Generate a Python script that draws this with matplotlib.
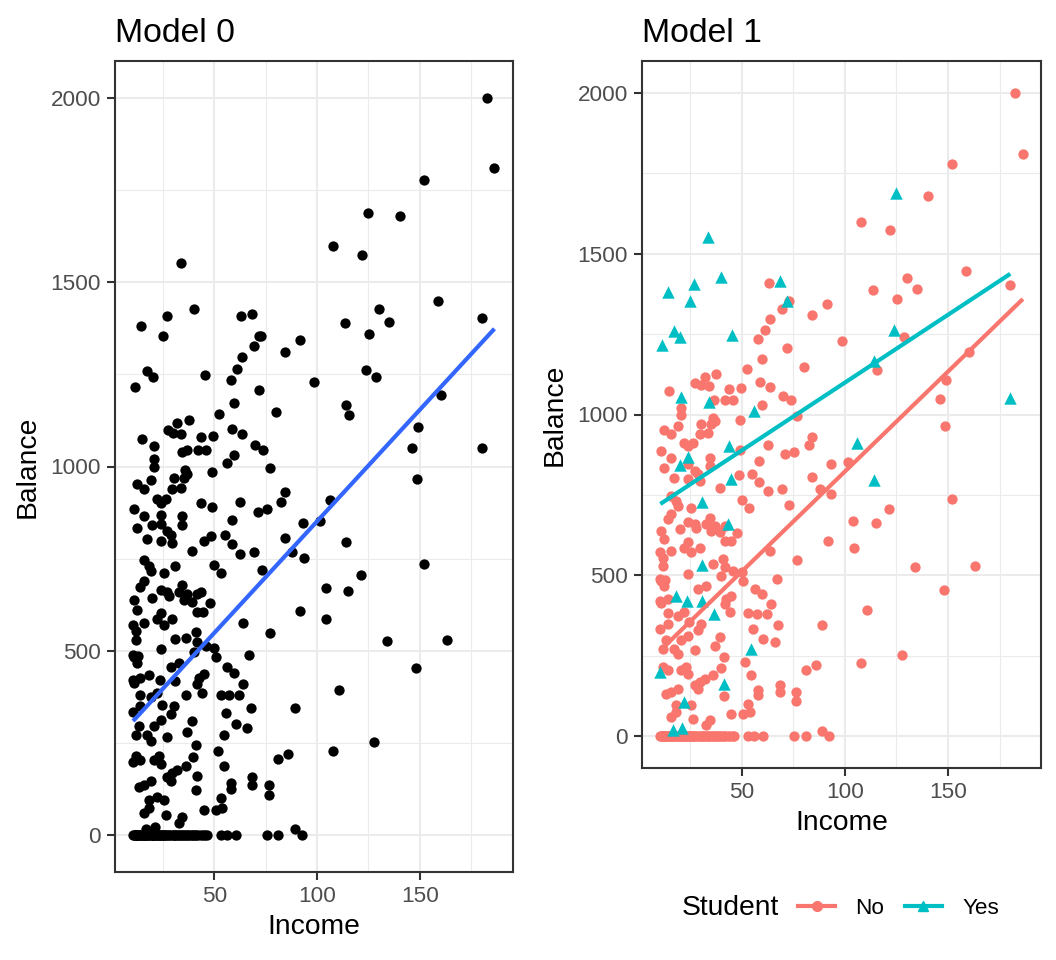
import numpy as np
import matplotlib
matplotlib.use("Agg")
import matplotlib.pyplot as plt
from matplotlib.lines import Line2D

plt.rcParams['font.family'] = ['Liberation Sans', 'DejaVu Sans']

# Credit data: (income, balance), split by student status
no_points = [
    (182.6, 2000), (186.3, 1810), (152.0, 1778), (140.3, 1679), (107.7, 1598), (122.0, 1573),
    (158.9, 1448), (180.3, 1404), (130.0, 1426), (113.7, 1388), (135.0, 1392), (125.3, 1360),
    (91.5, 1343), (84.2, 1311), (128.7, 1242), (98.7, 1230), (80.2, 1148), (115.7, 1139),
    (160.2, 1193), (148.9, 1107), (146.3, 1049), (77.0, 995),
    (148.6, 965), (84.2, 931), (82.6, 905), (93.1, 846), (101.5, 851), (84.2, 806),
    (87.8, 768), (93.5, 752), (152.0, 736), (121.5, 705), (104.1, 670), (115.2, 663),
    (91.8, 607), (104.5, 585), (77.0, 547), (134.1, 527), (163.1, 530), (148.1, 454),
    (110.8, 393), (89.0, 345), (127.8, 252), (107.8, 228), (85.8, 219), (80.9, 206),
    (76.5, 135), (76.5, 109), (89.1, 16),
    (63.0, 1409), (72.8, 1354), (69.4, 1328), (63.5, 1298), (61.1, 1264), (58.1, 1236),
    (71.8, 1208), (59.6, 1173), (52.4, 1142), (37.7, 1127), (32.0, 1117), (27.4, 1098),
    (30.0, 1091), (33.9, 1089), (58.6, 1102), (63.5, 1087), (14.7, 1074), (43.7, 1080),
    (49.4, 1082), (69.9, 1058), (73.8, 1046), (36.5, 1046), (41.9, 1046), (45.9, 1046),
    (59.6, 1030), (20.6, 1021), (20.6, 1000), (35.9, 990), (49.0, 984),
    (12.4, 953), (18.9, 964), (15.7, 938), (30.3, 969), (35.2, 969), (36.8, 979),
    (29.5, 938), (33.6, 943), (22.2, 912), (26.2, 912), (23.8, 902), (49.0, 891),
    (62.5, 904), (71.0, 876), (75.4, 884), (10.8, 886), (15.7, 865), (23.8, 845),
    (34.4, 865), (34.4, 840), (27.1, 824), (28.7, 814), (12.4, 833), (58.4, 855),
    (17.0, 803), (23.8, 798), (29.5, 793), (48.5, 811), (55.0, 814), (58.4, 790),
    (62.5, 762), (69.4, 767), (39.3, 772), (15.7, 747), (18.2, 731), (18.9, 716),
    (25.5, 710), (49.9, 733), (53.4, 710), (73.1, 719), (15.7, 690), (14.0, 674),
    (34.4, 679), (23.8, 664), (27.1, 659), (32.8, 659), (36.8, 654), (41.7, 654),
    (19.8, 643), (27.9, 648), (35.2, 638), (39.3, 633), (10.8, 638), (47.9, 631),
    (12.4, 612), (23.8, 602), (41.7, 605), (44.6, 605), (22.2, 586), (29.5, 586),
    (10.4, 571), (15.7, 576), (25.5, 571), (11.6, 555), (63.7, 576), (36.0, 535),
    (40.9, 550), (11.6, 529), (41.7, 524), (45.8, 514), (23.8, 504), (49.9, 509),
    (10.5, 489), (12.8, 486), (66.9, 488),
    (40.1, 498), (50.6, 483), (10.8, 483), (12.4, 467), (56.3, 457), (59.6, 441),
    (28.7, 457), (32.8, 467), (10.4, 421), (11.0, 412), (14.0, 426), (42.5, 426),
    (45.0, 436), (41.7, 411), (64.0, 411), (14.0, 381), (18.9, 374), (22.2, 385),
    (44.1, 385), (53.1, 381), (57.2, 380), (62.1, 380), (24.6, 353), (30.3, 349),
    (67.7, 345), (14.0, 349), (10.4, 333), (55.5, 331), (28.7, 328), (23.8, 312),
    (39.3, 309), (20.6, 297), (36.8, 281), (60.4, 302), (66.1, 291), (13.3, 297),
    (11.6, 271), (17.3, 271), (18.9, 255), (27.1, 266), (41.2, 245), (51.5, 229),
    (11.6, 214), (14.0, 204), (20.6, 204), (23.0, 214), (23.8, 193), (39.8, 211),
    (36.0, 188), (54.7, 188), (29.5, 168), (27.1, 157), (32.0, 178), (18.9, 147),
    (15.7, 136), (13.3, 131), (28.7, 147), (58.0, 142), (58.0, 126), (68.5, 157),
    (68.5, 136), (41.2, 123), (25.5, 95), (18.2, 95), (53.1, 100), (15.7, 59),
    (18.2, 74), (26.2, 54), (45.0, 69), (50.6, 69), (53.8, 74), (34.4, 49), (32.8, 33),
]

# incomes of non-students with a zero balance
zero_income = [
    10.4, 10.8, 11.2, 11.8, 12.0, 12.2, 12.6, 13.0, 13.4, 14.1, 14.3, 15.0, 15.1, 15.6,
    16.3, 16.8, 17.3, 17.8, 18.2, 18.9, 19.5, 20.0, 20.1, 20.2, 20.9, 21.5, 22.0, 22.4,
    23.1, 23.5, 24.2, 24.5, 25.0, 25.4, 26.1, 26.5, 27.3, 28.0, 28.9, 29.6, 30.2, 31.0,
    31.4, 32.1, 32.9, 33.5, 34.1, 35.2, 35.9, 36.5, 37.3, 38.0, 38.9, 39.6, 40.5, 41.2,
    42.0, 43.5, 44.5, 45.5, 46.3, 53.1, 56.0, 60.4, 75.4, 80.9, 92.4,
]

yes_points = [
    (33.6, 1553), (39.9, 1428), (26.7, 1407), (14.4, 1382), (24.8, 1353), (68.4, 1414),
    (71.8, 1353), (17.0, 1260), (19.9, 1242), (11.1, 1216), (45.3, 1247), (20.6, 1055),
    (34.0, 1038), (55.9, 1010), (124.7, 1688), (123.7, 1262), (114.0, 1166), (180.2, 1050),
    (106.1, 910), (114.0, 795), (43.7, 902), (23.8, 868), (19.8, 842), (45.0, 798),
    (30.6, 729), (43.3, 659), (30.6, 533), (18.2, 434), (23.3, 421), (30.8, 419),
    (36.3, 380), (54.5, 271), (10.5, 198), (41.4, 160), (22.2, 104), (16.5, 18), (21.1, 23),
]

# lm fits shown in the chart (intercept, slope); several points are hidden by overlap,
# so the lines are taken from the picture rather than refit on the visible points
fit_all = (246.5, 6.05)
fit_no = (200.6, 6.22)
fit_yes = (677.3, 4.22)

group_labels = ["No", "Yes"]
group_colors = ["#F8766D", "#00BFC4"]

inc_no = np.array([p[0] for p in no_points] + zero_income)
bal_no = np.array([p[1] for p in no_points] + [0] * len(zero_income))
inc_yes = np.array([p[0] for p in yes_points])
bal_yes = np.array([p[1] for p in yes_points])
inc_all = np.concatenate([inc_no, inc_yes])
bal_all = np.concatenate([bal_no, bal_yes])

TICK_FS = 16.2
LAB_FS = 20.3
TITLE_FS = 24.3


def style_axes(ax):
    # theme_bw look
    ax.set_facecolor("white")
    for s in ax.spines.values():
        s.set_color("#333333")
        s.set_linewidth(1.5)
    ax.set_xticks([50, 100, 150])
    ax.set_xticks([25, 75, 125, 175], minor=True)
    ax.set_yticks([0, 500, 1000, 1500, 2000])
    ax.set_yticks([250, 750, 1250, 1750], minor=True)
    ax.grid(which="major", color="#EBEBEB", lw=1.5)
    ax.grid(which="minor", color="#EBEBEB", lw=0.8)
    ax.set_axisbelow(True)
    ax.tick_params(which="major", length=6, width=1.5, color="#333333",
                   labelsize=TICK_FS, labelcolor="#4D4D4D", pad=4)
    ax.tick_params(which="minor", length=0)
    xr = inc_all.max() - inc_all.min()
    yr = bal_all.max() - bal_all.min()
    ax.set_xlim(inc_all.min() - 0.05 * xr, inc_all.max() + 0.05 * xr)
    ax.set_ylim(bal_all.min() - 0.05 * yr, bal_all.max() + 0.05 * yr)
    ax.set_xlabel("Income", fontsize=LAB_FS, labelpad=5)
    ax.set_ylabel("Balance", fontsize=LAB_FS, labelpad=7)


def draw_fit(ax, x, fit, col):
    xs = np.array([x.min(), x.max()])
    ax.plot(xs, fit[0] + fit[1] * xs, color=col, lw=3, zorder=3, solid_capstyle="butt")


fig = plt.figure(figsize=(10.56, 9.6), dpi=100)

# Model 0
ax0 = fig.add_axes([115 / 1056, 1 - 872 / 960, 397.5 / 1056, 811 / 960])
style_axes(ax0)
ax0.scatter(inc_all, bal_all, s=55, color="black", linewidths=0, zorder=2)
draw_fit(ax0, inc_all, fit_all, "#3366FF")
ax0.set_title("Model 0", loc="left", fontsize=TITLE_FS, pad=14)

# Model 1
ax1 = fig.add_axes([642 / 1056, 1 - 768 / 960, 399 / 1056, 707 / 960])
style_axes(ax1)
groups = [(inc_no, bal_no, "o", 55, fit_no), (inc_yes, bal_yes, "^", 80, fit_yes)]
for (x, y, m, sz, fit), col in zip(groups, group_colors):
    ax1.scatter(x, y, s=sz, marker=m, color=col, linewidths=0, zorder=2)
for (x, y, m, sz, fit), col in zip(groups, group_colors):
    draw_fit(ax1, x, fit, col)
ax1.set_title("Model 1", loc="left", fontsize=TITLE_FS, pad=14)

# legend at the bottom, title on the left
fig.text(682 / 1056, 1 - 908 / 960, "Student", fontsize=LAB_FS, va="center", ha="left")
handles = [Line2D([], [], color=c, lw=3, marker=m, markersize=7)
           for c, m in zip(group_colors, ["o", "^"])]
fig.legend(handles, group_labels, loc="center left", bbox_to_anchor=(798 / 1056, 1 - 908 / 960),
           ncol=2, frameon=False, fontsize=TICK_FS, handlelength=1.65, handletextpad=0.9,
           columnspacing=0.9, borderpad=0, borderaxespad=0)

fig.savefig("out.png", dpi=100, facecolor="white")
